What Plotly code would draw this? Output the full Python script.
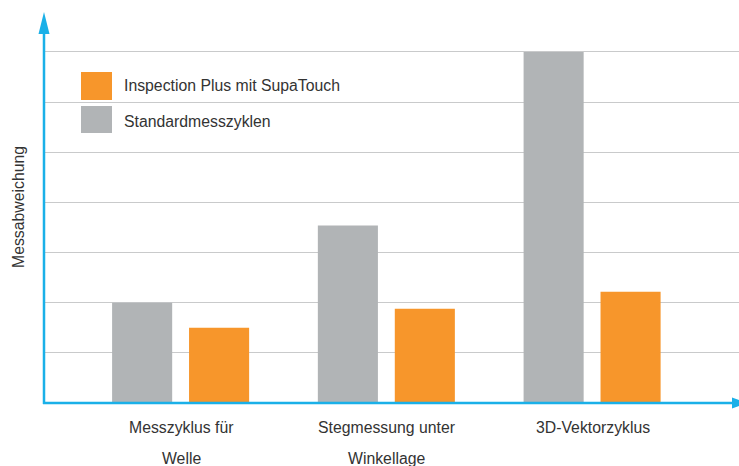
import plotly.graph_objects as go

categories = ["Messzyklus für Welle", "Stegmessung unter Winkellage", "3D-Vektorzyklus"]
label_line1 = ["Messzyklus für", "Stegmessung unter", "3D-Vektorzyklus"]
label_line2 = ["Welle", "Winkellage", ""]
standard_values = [2.0, 3.54, 7.0]
supatouch_values = [1.5, 1.88, 2.22]
series_names = ["Inspection Plus mit SupaTouch", "Standardmesszyklen"]
y_title = "Messabweichung"

GRAY = "#b1b4b6"
ORANGE = "#f7962b"
AXIS = "#1ab0e8"
TEXT = "#333333"
FONT = "Liberation Sans, Arial, sans-serif"
FS = 15.8

W, H = 739, 466
L, R, T, B = 44, 0, 10, 63
PW, PH = W - L - R, H - T - B


def px(X):
    return (X - L) / PW


def py(Y):
    return (H - B - Y) / PH


fig = go.Figure()
fig.add_trace(go.Bar(x=categories, y=standard_values, name=series_names[1],
                     marker=dict(color=GRAY, line=dict(width=0)),
                     width=0.292, offset=-0.335, showlegend=False))
fig.add_trace(go.Bar(x=categories, y=supatouch_values, name=series_names[0],
                     marker=dict(color=ORANGE, line=dict(width=0)),
                     width=0.292, offset=0.039, showlegend=False))

shapes = []
# y axis line and arrow
shapes.append(dict(type="line", xref="paper", yref="paper", x0=px(44), x1=px(44),
                   y0=py(404), y1=py(32), line=dict(color=AXIS, width=2.5), layer="above"))
shapes.append(dict(type="path", xref="paper", yref="paper",
                   path=f"M {px(44)} {py(12)} L {px(38.5)} {py(34)} L {px(49.5)} {py(34)} Z",
                   fillcolor=AXIS, line=dict(width=0), layer="above"))
# x axis line and arrow
shapes.append(dict(type="line", xref="paper", yref="paper", x0=px(43), x1=px(734),
                   y0=py(403), y1=py(403), line=dict(color=AXIS, width=2.5), layer="above"))
shapes.append(dict(type="path", xref="paper", yref="paper",
                   path=f"M {px(747)} {py(403)} L {px(732)} {py(397.5)} L {px(732)} {py(408.5)} Z",
                   fillcolor=AXIS, line=dict(width=0), layer="above"))
# legend squares
shapes.append(dict(type="rect", xref="paper", yref="paper", x0=px(81), x1=px(112),
                   y0=py(100), y1=py(72), fillcolor=ORANGE, line=dict(width=0)))
shapes.append(dict(type="rect", xref="paper", yref="paper", x0=px(81), x1=px(112),
                   y0=py(133), y1=py(106), fillcolor=GRAY, line=dict(width=0)))

annotations = []
for name, Y in zip(series_names, [86, 121]):
    annotations.append(dict(text=name, xref="paper", yref="paper", x=px(122), y=py(Y),
                            xanchor="left", yanchor="middle", showarrow=False,
                            font=dict(family=FONT, size=FS, color=TEXT)))
for cat, l1, l2 in zip(categories, label_line1, label_line2):
    annotations.append(dict(text=l1, xref="x", yref="paper", x=cat, y=py(427),
                            xanchor="center", yanchor="middle", showarrow=False,
                            font=dict(family=FONT, size=FS, color=TEXT)))
    if l2:
        annotations.append(dict(text=l2, xref="x", yref="paper", x=cat, y=py(458),
                                xanchor="center", yanchor="middle", showarrow=False,
                                font=dict(family=FONT, size=FS, color=TEXT)))
annotations.append(dict(text=y_title, xref="paper", yref="paper", x=px(18), y=py(207),
                        xanchor="center", yanchor="middle", textangle=-90, showarrow=False,
                        font=dict(family=FONT, size=FS, color=TEXT)))

fig.update_layout(
    width=W, height=H,
    margin=dict(l=L, r=R, t=T, b=B, pad=0),
    paper_bgcolor="white", plot_bgcolor="white",
    shapes=shapes, annotations=annotations,
    xaxis=dict(type="category", range=[-0.666, 2.712], showgrid=False, showticklabels=False,
               ticks="", showline=False, zeroline=False, fixedrange=True),
    yaxis=dict(range=[0, PH / 50.15], dtick=1, tick0=0, showgrid=True, gridcolor="#c9cacb",
               gridwidth=1.2, showticklabels=False, ticks="", showline=False,
               zeroline=False, fixedrange=True),
    showlegend=False,
)

fig.write_html("out.html", config={"displayModeBar": False},
               post_script="document.body.style.margin='0';document.body.style.overflow='hidden';")
